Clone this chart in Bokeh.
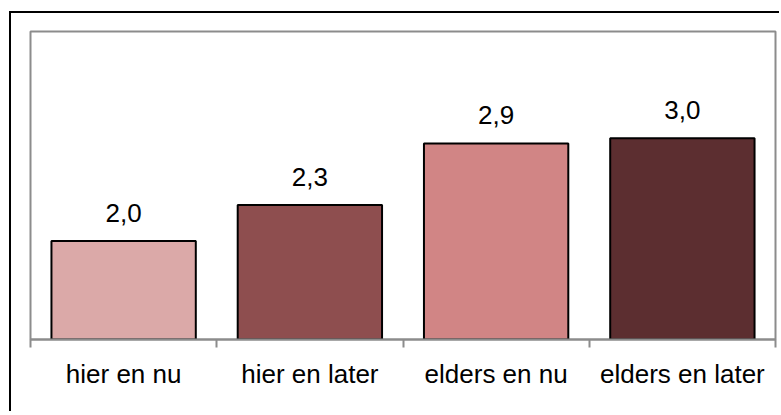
import numpy as np
from bokeh.plotting import figure
from bokeh.models import Range1d, FixedTicker, ColumnDataSource
from bokeh.core.properties import value
from bokeh.embed import file_html
from bokeh.resources import INLINE

categories = ["hier en nu", "hier en later", "elders en nu", "elders en later"]
values = [1.96, 2.31, 2.91, 2.96]
colors = ["#DBA9A8", "#8E4E4F", "#D18585", "#5C2E30"]
y_min, y_max = 1.0, 4.0

xpos = np.arange(len(categories)) + 0.5
labels = [f"{v:.1f}".replace(".", ",") for v in values]
src = ColumnDataSource(dict(x=xpos, top=values, color=colors, label=labels))

FONT = "Liberation Sans"

p = figure(width=770, height=400, output_backend="svg", toolbar_location=None,
           x_range=Range1d(0, len(categories)), y_range=Range1d(y_min, y_max),
           min_border_left=19, min_border_right=6, min_border_top=18, min_border_bottom=74)
p.styles = {"border-left": "2px solid black", "border-top": "2px solid black",
            "margin-left": "9px", "margin-top": "11px"}

p.vbar(x="x", top="top", bottom=y_min, width=0.775, fill_color="color",
       line_color="black", line_width=2, source=src)
p.text(x="x", y="top", text="label", source=src, text_align="center",
       text_baseline="alphabetic", y_offset=-28, text_font=value(FONT),
       text_font_size="26px", text_color="black")

p.grid.visible = False
p.yaxis.visible = False
p.outline_line_color = "#8C8C8C"
p.outline_line_width = 2

ax = p.xaxis[0]
ax.ticker = FixedTicker(ticks=list(xpos), minor_ticks=list(range(len(categories) + 1)))
ax.major_label_overrides = {float(x): c for x, c in zip(xpos, categories)}
ax.major_tick_out = 0
ax.major_tick_in = 0
ax.minor_tick_out = 8
ax.minor_tick_in = 0
ax.minor_tick_line_color = "#8C8C8C"
ax.minor_tick_line_width = 2
ax.axis_line_color = "#8C8C8C"
ax.axis_line_width = 2
ax.major_label_standoff = 11
ax.major_label_text_font = FONT
ax.major_label_text_font_size = "26px"
ax.major_label_text_color = "black"

open("out.html", "w").write(file_html(p, INLINE))
